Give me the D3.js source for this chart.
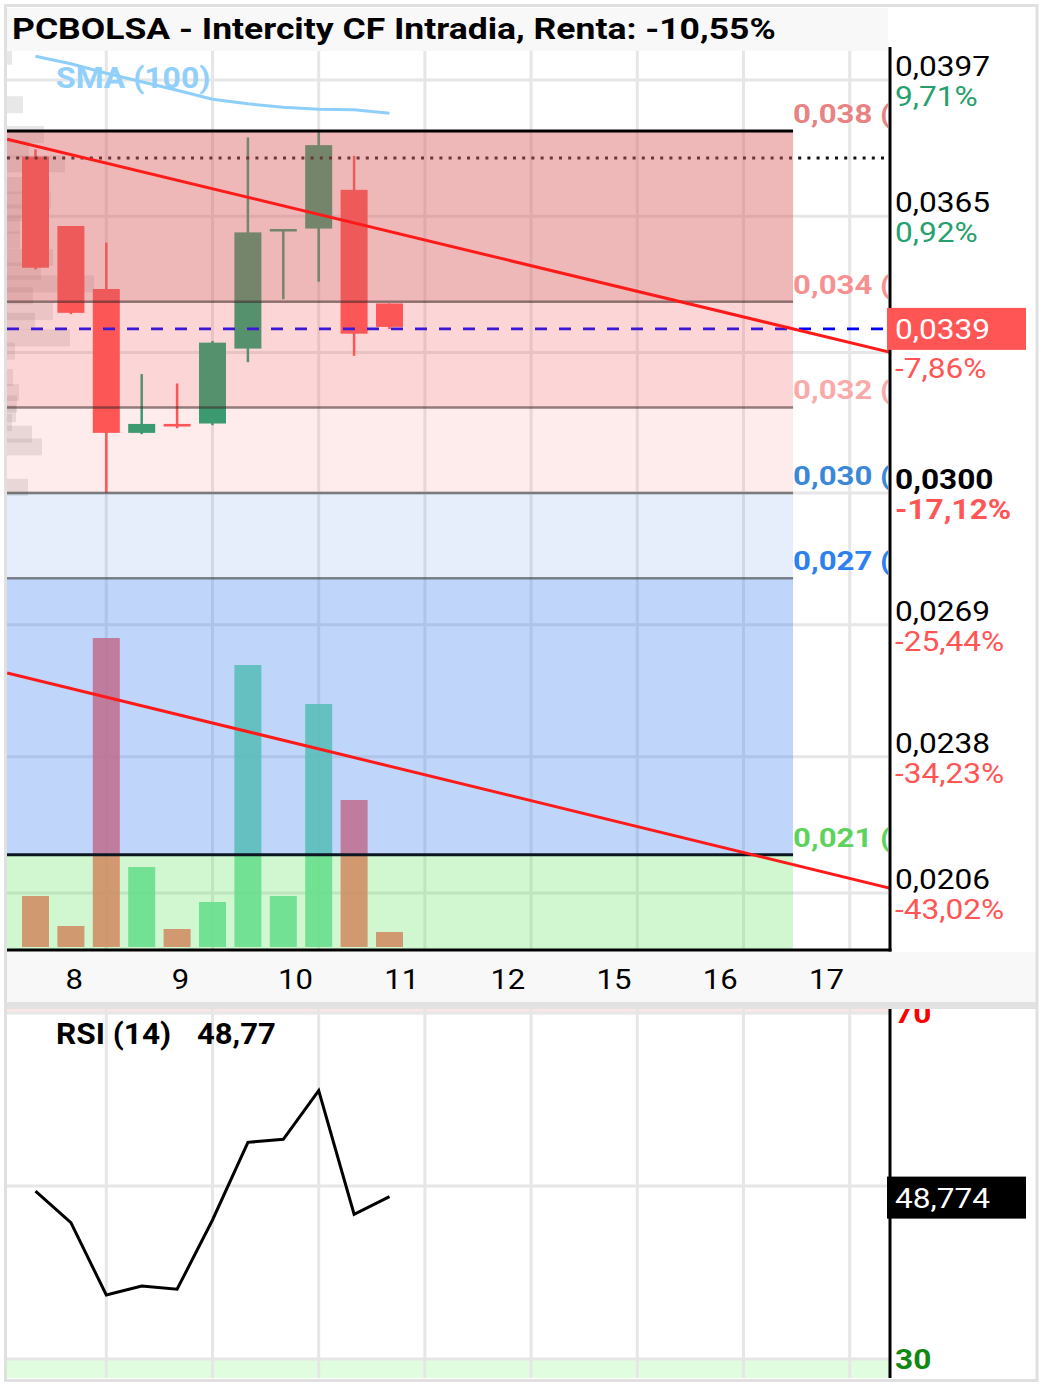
<!DOCTYPE html>
<html><head><meta charset="utf-8">
<script src="https://cdn.jsdelivr.net/npm/d3@7"></script>
<style>
html,body{margin:0;padding:0;background:#fff;}
svg{display:block;font-family:Roboto,"DejaVu Sans",sans-serif;}
</style></head><body>
<svg id="c" width="1043" height="1385"></svg>
<script>
// ================= DATA =================
const chartTitle = "PCBOLSA - Intercity CF Intradia, Renta: -10,55%";
const candleIdx = [0,1,2,3,4,5,6,7,8,9,10];
const openP  = [0.03790,0.03627,0.03479,0.03141,0.03162,0.03163,0.03339,0.03614,0.03621,0.03712,0.03445];
const highP  = [0.03807,0.03627,0.03588,0.03279,0.03257,0.03357,0.03835,0.03620,0.03850,0.03792,0.03445];
const lowP   = [0.03525,0.03420,0.03000,0.03138,0.03152,0.03159,0.03307,0.03455,0.03496,0.03322,0.03385];
const closeP = [0.03529,0.03423,0.03141,0.03162,0.03156,0.03353,0.03612,0.03620,0.03817,0.03374,0.03390];
const volumeK = [51,21,309,80,18,45,282,51,243,147,15];
const sma100 = [0.04026,0.04008,0.03986,0.03966,0.03946,0.03925,0.03914,0.03906,0.03901,0.03900,0.03892];
const rsi14  = [49.42,45.76,37.40,38.44,38.06,46.07,55.05,55.40,61.02,46.73,48.77];
const dayLabels = ["8","9","10","11","12","15","16","17"];
const dayStartIdx = [2,5,8,11,14,17,20,23];
const priceTicks = [0.0397,0.0365,0.0333,0.0300,0.0269,0.0238,0.0206];
const priceTickLabels = ["0,0397","0,0365","0,0333","0,0300","0,0269","0,0238","0,0206"];
const pctTickLabels = ["9,71%","0,92%","-7,86%","-17,12%","-25,44%","-34,23%","-43,02%"];
const pctTickValues = [9.71,0.92,-7.86,-17.12,-25.44,-34.23,-43.02];
const highlightTick = 0.0300;
const fibHigh = 0.0385, fibLow = 0.0215;
const fibRatios = [0,0.236,0.382,0.5,0.618,1];
const fibLabels = ["0,038 (","0,034 (","0,032 (","0,030 (","0,027 (","0,021 ("];
const fibEndIdx = 21.4;
const lastPrice = 0.0339, lastPriceLabel = "0,0339";
const refLevel = 0.03787;
const trendUpper = [[-0.8,0.03831],[24.2,0.03329]];
const trendLower = [[-0.8,0.02577],[24.2,0.02070]];
const profilePrice = [0.04026,0.03912,0.03842,0.03806,0.03773,0.03722,0.03688,0.03658,0.03629,0.03594,0.03553,0.03521,0.03491,0.03463,0.03426,0.03403,0.03364,0.03333,0.03271,0.03236,0.03209,0.03186,0.03165,0.03138,0.03108,0.03013];
const profileVol = [5,16,37,22,58,15,44,15,13,13,46,34,87,26,46,28,63,8,6,12,10,9,5,25,35,21];
const profileBin = 0.0004;
const smaLabel = "SMA (100)";
const rsiLabel = "RSI (14)", rsiValueLabel = "48,77", rsiBoxLabel = "48,774", rsiLast = 48.774;
const rsiLevels = [70,50,30];
const rsiLevelLabels = ["70","50","30"];

// ================= STYLE / LAYOUT =================
const SX = 1.13;
const P = {l:7, r:890, t:51, b:950};
const R = {t:1009, b:1378};
const svg = d3.select("#c");
const FONT = 28;

const x = d3.scaleLinear().domain([0,10]).range([35.5,389.5]);
const y = d3.scaleLinear().domain([0.0206,0.0397]).range([893,80]);
const yV = d3.scaleLinear().domain([0,300]).range([947,647]);
const xProf = d3.scaleLinear().domain([0,100]).range([P.l,P.l+100]);
const yR = d3.scaleLinear().domain([30,70]).range([1359,1013]);

function txt(parent,px,py,s,o={}){
  return parent.append("text")
    .attr("transform",`translate(${px},${py}) scale(${o.sx||SX},1)`)
    .attr("text-anchor",o.anchor||"start")
    .attr("font-size",o.size||FONT)
    .attr("font-weight",o.weight||400)
    .attr("fill",o.fill||"#000")
    .text(s);
}

// page background and frame
svg.append("rect").attr("x",0).attr("y",0).attr("width",1043).attr("height",1385).attr("fill","#fff");
svg.append("rect").attr("x",7).attr("y",8).attr("width",881).attr("height",43).attr("fill","#f8f8f8");
svg.append("rect").attr("x",7).attr("y",952).attr("width",1029).attr("height",50).attr("fill","#f8f8f8");
svg.append("rect").attr("x",7).attr("y",1002).attr("width",1029).attr("height",7).attr("fill","#e2e2e2");

const defs = svg.append("defs");
defs.append("clipPath").attr("id","plotclip").append("rect")
  .attr("x",P.l).attr("y",P.t).attr("width",P.r-P.l).attr("height",P.b-P.t);
defs.append("clipPath").attr("id","labelclip").append("rect")
  .attr("x",P.l).attr("y",P.t).attr("width",888-P.l).attr("height",P.b-P.t);
defs.append("clipPath").attr("id","rsiclip").append("rect")
  .attr("x",P.l).attr("y",R.t).attr("width",1036-P.l).attr("height",R.b-R.t);

const plot = svg.append("g").attr("clip-path","url(#plotclip)");
const GRID = "#e6e6e6";

// grid
plot.selectAll(".vg").data(dayStartIdx).join("line")
  .attr("x1",d=>x(d)).attr("x2",d=>x(d)).attr("y1",P.t).attr("y2",P.b)
  .attr("stroke",GRID).attr("stroke-width",3);
plot.selectAll(".hg").data(priceTicks).join("line")
  .attr("x1",P.l).attr("x2",888).attr("y1",d=>y(d)).attr("y2",d=>y(d))
  .attr("stroke",GRID).attr("stroke-width",3);

// volume profile
plot.selectAll(".vp").data(profilePrice).join("rect")
  .attr("x",P.l).attr("y",d=>y(d+profileBin/2))
  .attr("width",(d,i)=>xProf(profileVol[i])-P.l)
  .attr("height",d=>y(d-profileBin/2)-y(d+profileBin/2))
  .attr("fill","rgba(120,120,120,0.17)");

// volume bars
const BW = 27;
plot.selectAll(".vol").data(candleIdx).join("rect")
  .attr("x",i=>x(i)-BW/2).attr("width",BW)
  .attr("y",i=>yV(volumeK[i])).attr("height",i=>yV(0)-yV(volumeK[i]))
  .attr("fill",i=>closeP[i]>=openP[i]?"#63da9b":"#ff625d").attr("fill-opacity",0.85);

// candles
const UP="#21a373", DN="#ff5555";
plot.selectAll(".wick").data(candleIdx).join("line")
  .attr("x1",i=>x(i)).attr("x2",i=>x(i))
  .attr("y1",i=>y(highP[i])).attr("y2",i=>y(lowP[i]))
  .attr("stroke",i=>closeP[i]>=openP[i]?UP:DN).attr("stroke-width",2.5);
plot.selectAll(".body").data(candleIdx).join("rect")
  .attr("x",i=>x(i)-BW/2).attr("width",BW)
  .attr("y",i=>y(Math.max(openP[i],closeP[i])))
  .attr("height",i=>Math.max(2.5,Math.abs(y(openP[i])-y(closeP[i]))))
  .attr("fill",i=>closeP[i]>=openP[i]?UP:DN);

// SMA
plot.append("path").datum(candleIdx)
  .attr("d",d3.line().x(i=>x(i)).y(i=>y(sma100[i])))
  .attr("fill","none").attr("stroke","#8ecffa").attr("stroke-width",3);

// last price dashed & reference dotted line
plot.append("line").attr("x1",P.l).attr("x2",888).attr("y1",y(lastPrice)+2).attr("y2",y(lastPrice)+2)
  .attr("stroke","#0000ff").attr("stroke-width",2.7).attr("stroke-dasharray","12,12");
plot.append("line").attr("x1",P.l).attr("x2",888).attr("y1",y(refLevel)).attr("y2",y(refLevel))
  .attr("stroke","#111").attr("stroke-width",3).attr("stroke-dasharray","3,6.2");

// fib zones
const fibPrices = fibRatios.map(r=>fibHigh-(fibHigh-fibLow)*r);
const zoneFill = ["rgba(218,98,98,0.45)","rgba(245,90,90,0.25)","rgba(245,90,90,0.12)","rgba(80,140,220,0.15)","rgba(60,130,240,0.33)","rgba(100,230,100,0.30)"];
const zoneBottoms = fibPrices.slice(1).concat([0.0150]);
plot.selectAll(".zone").data(fibPrices).join("rect")
  .attr("x",P.l).attr("width",x(fibEndIdx)-P.l)
  .attr("y",d=>y(d)).attr("height",(d,i)=>y(zoneBottoms[i])-y(d))
  .attr("fill",(d,i)=>zoneFill[i]);
const fibLineCol = ["#000","rgba(60,40,40,0.55)","rgba(60,40,40,0.55)","rgba(60,60,60,0.6)","rgba(60,60,60,0.6)","#0b1620"];
plot.selectAll(".fl").data(fibPrices).join("line")
  .attr("x1",P.l).attr("x2",x(fibEndIdx)).attr("y1",d=>y(d)).attr("y2",d=>y(d))
  .attr("stroke",(d,i)=>fibLineCol[i]).attr("stroke-width",(d,i)=>(i===0||i===5)?3:2.5);

// trend lines
const tl = d3.line().x(d=>x(d[0])).y(d=>y(d[1]));
[trendUpper,trendLower].forEach(t=>{
  plot.append("path").attr("d",tl(t)).attr("fill","none").attr("stroke","#ff1a1a").attr("stroke-width",3);
});

// fib labels
const fibLabCol = ["#e88383","#f79191","#fbaaaa","#3b88d8","#2d80f0","#5dd35d"];
const labG = svg.append("g").attr("clip-path","url(#labelclip)");
fibPrices.forEach((p,i)=>{
  txt(labG,x(fibEndIdx),y(p)-8,fibLabels[i],{weight:700,size:26,fill:fibLabCol[i],sx:1.2});
});

// axes lines
svg.append("line").attr("x1",890).attr("x2",890).attr("y1",47).attr("y2",951.5).attr("stroke","#000").attr("stroke-width",3);
svg.append("line").attr("x1",P.l).attr("x2",891.5).attr("y1",950).attr("y2",950).attr("stroke","#000").attr("stroke-width",3);

// right axis tick labels (value label hidden when under the last-price box)
priceTicks.forEach((p,i)=>{
  const b = p===highlightTick;
  if (Math.abs(y(p)-y(lastPrice))>30) txt(svg,895,y(p)-4,priceTickLabels[i],{weight:b?700:400});
  txt(svg,895,y(p)+26,pctTickLabels[i],{weight:b?700:400,fill:pctTickValues[i]>=0?"#26a06e":"#ff5555"});
});
// last price box
svg.append("rect").attr("x",887).attr("y",y(lastPrice)-19).attr("width",139).attr("height",42).attr("fill","#ff5555");
txt(svg,895,y(lastPrice)+12,lastPriceLabel,{fill:"#fff"});

// x labels
dayLabels.forEach((d,i)=>{
  txt(svg,x(dayStartIdx[i]-1.15),989,d,{size:27.5});
});

// title & SMA label
txt(svg,12,39,chartTitle,{weight:700,size:29.5,sx:1.204});
txt(svg,56,88,smaLabel,{weight:700,size:29,fill:"#90d0fa",sx:1.1});

// ============ RSI panel ============
const rg = svg.append("g").attr("clip-path","url(#rsiclip)");
rg.append("rect").attr("x",P.l).attr("y",yR(100)).attr("width",P.r-P.l).attr("height",yR(70)-yR(100)).attr("fill","#fde6e6");
rg.append("rect").attr("x",P.l).attr("y",yR(30)).attr("width",P.r-P.l).attr("height",yR(0)-yR(30)).attr("fill","#e0fde0");
rg.selectAll(".rv").data(dayStartIdx).join("line")
  .attr("x1",d=>x(d)).attr("x2",d=>x(d)).attr("y1",R.t).attr("y2",R.b)
  .attr("stroke",GRID).attr("stroke-width",3);
rg.selectAll(".rh").data(rsiLevels).join("line")
  .attr("x1",P.l).attr("x2",P.r).attr("y1",d=>yR(d)).attr("y2",d=>yR(d))
  .attr("stroke",GRID).attr("stroke-width",3);
rg.append("path").datum(candleIdx)
  .attr("d",d3.line().x(i=>x(i)).y(i=>yR(rsi14[i])))
  .attr("fill","none").attr("stroke","#000").attr("stroke-width",3);
rg.append("line").attr("x1",890).attr("x2",890).attr("y1",R.t).attr("y2",R.b).attr("stroke","#000").attr("stroke-width",3);
const rsiLabCol = ["#ff0000","#000","#118811"];
rsiLevels.forEach((v,i)=>{
  if (Math.abs(yR(v)-yR(rsiLast))>30) txt(rg,895,yR(v)+10,rsiLevelLabels[i],{weight:700,fill:rsiLabCol[i]});
});
rg.append("rect").attr("x",887).attr("y",yR(rsiLast)-20).attr("width",139).attr("height",42).attr("fill","#000");
txt(rg,895,yR(rsiLast)+11,rsiBoxLabel,{fill:"#fff"});
txt(svg,56,1044,rsiLabel,{weight:700,size:29,sx:1.09});
txt(svg,197,1044,rsiValueLabel,{weight:700,size:29,sx:1.07});

// outer frame
svg.append("rect").attr("x",5.5).attr("y",5.5).attr("width",1031.5).attr("height",1375).attr("fill","none").attr("stroke","#e0e0e0").attr("stroke-width",3);
</script>
</body></html>
